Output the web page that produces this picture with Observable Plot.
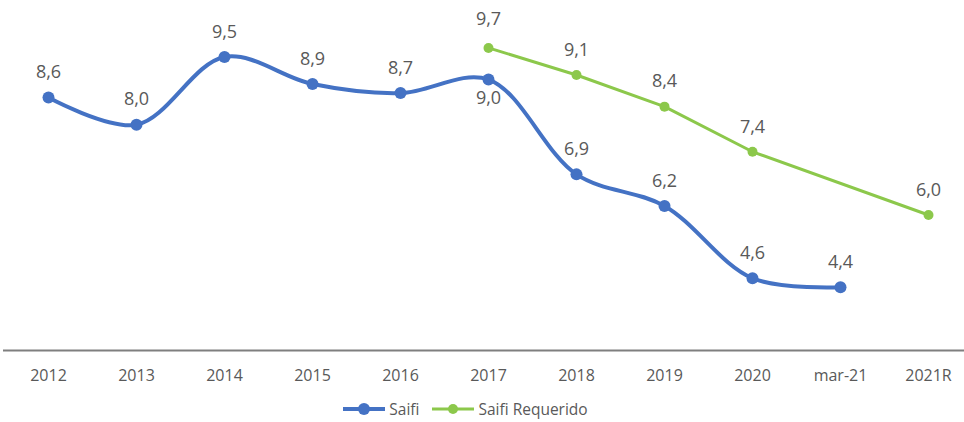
<!DOCTYPE html>
<html>
<head>
<meta charset="utf-8">
<script src="https://cdn.jsdelivr.net/npm/d3@7"></script>
<script src="https://cdn.jsdelivr.net/npm/@observablehq/plot@0.6"></script>
<style>
  body { margin: 0; background: #fff; font-family: "Open Sans", sans-serif; }
  #legend { display: flex; justify-content: center; align-items: center; height: 27px; color: #595959; font-size: 15.5px; padding-right: 34px; }
  .item { display: flex; align-items: center; margin: 0 6px; }
  .item svg { margin-right: 3px; }
</style>
</head>
<body>
<div id="chart"></div>
<div id="legend"></div>
<script>
const categories = ["2012","2013","2014","2015","2016","2017","2018","2019","2020","mar-21","2021R"];
const saifi = [8.6, 8.0, 9.5, 8.9, 8.7, 9.0, 6.9, 6.2, 4.6, 4.4, null];
const saifiRequerido = [null, null, null, null, null, 9.7, 9.1, 8.4, 7.4, null, 6.0];
const seriesNames = ["Saifi", "Saifi Requerido"];
const colors = ["#4472C4", "#8CC84B"];

const blue = categories.map((c, i) => ({cat: c, v: saifi[i]})).filter(d => d.v != null);
const green = categories.map((c, i) => ({cat: c, v: saifiRequerido[i]})).filter(d => d.v != null);
const fmt = v => v.toFixed(1).replace(".", ",");

const chart = Plot.plot({
  width: 964,
  height: 395,
  marginLeft: 3,
  marginRight: 0,
  marginTop: 0,
  marginBottom: 45,
  style: {fontFamily: "Open Sans, sans-serif", color: "#595959", background: "#fff"},
  x: {type: "point", domain: categories, range: [48, 928], padding: 0, label: null},
  y: {domain: [3, 10.75], range: [350, 0], axis: null},
  marks: [
    Plot.ruleY([3], {stroke: "#7f7f7f", strokeWidth: 2}),
    Plot.axisX({tickSize: 0, tickPadding: 19, fontSize: 16, fill: "#595959", label: null}),
    Plot.line(blue, {x: "cat", y: "v", stroke: colors[0], strokeWidth: 4, curve: "catmull-rom"}),
    Plot.dot(blue, {x: "cat", y: "v", r: 6, fill: colors[0]}),
    Plot.line(green, {x: "cat", y: "v", stroke: colors[1], strokeWidth: 3}),
    Plot.dot(green, {x: "cat", y: "v", r: 5, fill: colors[1]}),
    Plot.text(blue.filter(d => d.cat !== "2017"), {x: "cat", y: "v", text: d => fmt(d.v), dy: -25, fontSize: 18, fill: "#595959"}),
    Plot.text(blue.filter(d => d.cat === "2017"), {x: "cat", y: "v", text: d => fmt(d.v), dy: 19, fontSize: 18, fill: "#595959"}),
    Plot.text(green.filter(d => d.cat !== "2017"), {x: "cat", y: "v", text: d => fmt(d.v), dy: -25, fontSize: 18, fill: "#595959"}),
    Plot.text(green.filter(d => d.cat === "2017"), {x: "cat", y: "v", text: d => fmt(d.v), dy: -29, fontSize: 18, fill: "#595959"})
  ]
});
document.getElementById("chart").appendChild(chart);

const legend = document.getElementById("legend");
seriesNames.forEach((name, i) => {
  const item = document.createElement("div");
  item.className = "item";
  item.innerHTML = `<svg width="44" height="14"><line x1="1" y1="7" x2="43" y2="7" stroke="${colors[i]}" stroke-width="${i === 0 ? 4 : 3}"/><circle cx="22" cy="7" r="${i === 0 ? 6 : 5}" fill="${colors[i]}"/></svg><span>${name}</span>`;
  legend.appendChild(item);
});
</script>
</body>
</html>
